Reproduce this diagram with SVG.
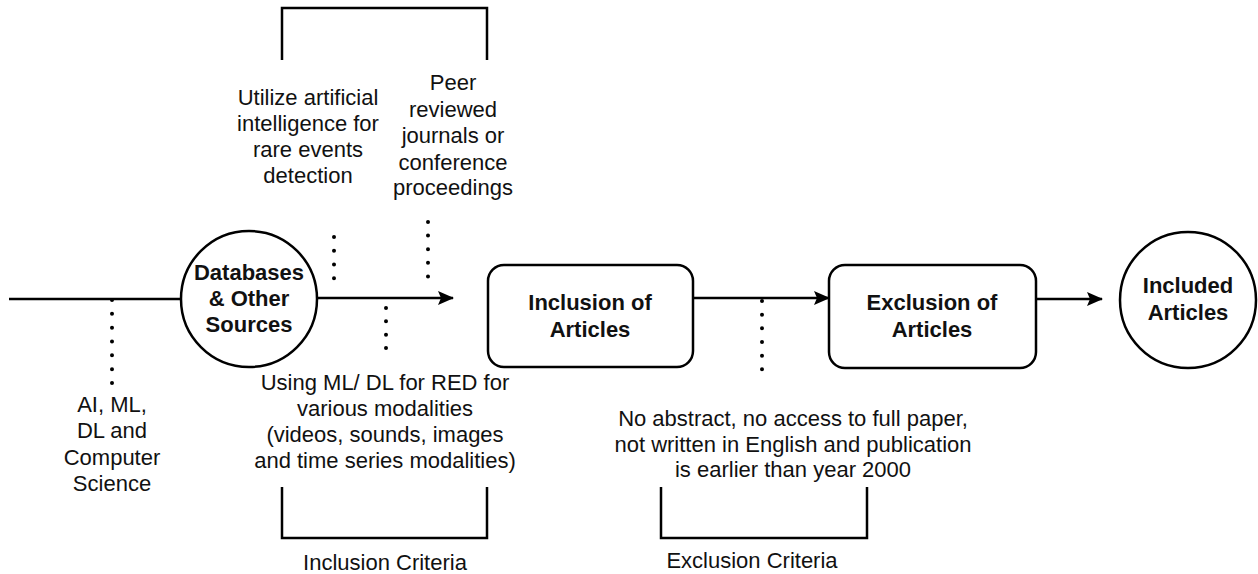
<svg xmlns="http://www.w3.org/2000/svg" width="1258" height="574" viewBox="0 0 1258 574">
<style>
.ln{fill:none;stroke:#000;stroke-width:2.5}
.sh{fill:#fff;stroke:#000;stroke-width:2.5}
.dot{fill:none;stroke:#000;stroke-width:4;stroke-linecap:round}
.t{font-family:"Liberation Sans",Arial,sans-serif;font-size:22px;fill:#111;text-anchor:middle}
.b{font-family:"Liberation Sans",Arial,sans-serif;font-size:22px;font-weight:bold;fill:#111;text-anchor:middle}
</style>
<defs>
<marker id="arr" markerUnits="userSpaceOnUse" markerWidth="17" markerHeight="15" refX="15" refY="7" orient="auto">
<path d="M0,0 L16,7 L0,14 L3,7 Z" fill="#000"/>
</marker>
</defs>
<rect width="1258" height="574" fill="#fff"/>
<g id="connectors">
<line class="ln" x1="9" y1="299" x2="181" y2="299"/>
<line class="ln" x1="318" y1="298" x2="453" y2="298" marker-end="url(#arr)"/>
<line class="ln" x1="693" y1="298" x2="829" y2="298" marker-end="url(#arr)"/>
<line class="ln" x1="1036" y1="299" x2="1102" y2="299" marker-end="url(#arr)"/>
<line class="dot" x1="112" y1="300" x2="112" y2="383" stroke-dasharray="0 13.83"/>
<line class="dot" x1="334" y1="237" x2="334" y2="292" stroke-dasharray="0 13.75"/>
<line class="dot" x1="428" y1="222" x2="428" y2="290" stroke-dasharray="0 13.6"/>
<line class="dot" x1="386" y1="308" x2="386" y2="348" stroke-dasharray="0 13.33"/>
<line class="dot" x1="762" y1="301" x2="762" y2="383" stroke-dasharray="0 13.67"/>
</g>
<g id="databases">
<circle class="sh" cx="249" cy="299" r="68"/>
<text class="b" x="249" y="280">Databases</text>
<text class="b" x="249" y="306">&amp; Other</text>
<text class="b" x="249" y="332">Sources</text>
</g>
<g id="inclusion">
<rect class="sh" x="488" y="265" width="205" height="102" rx="16"/>
<text class="b" x="590" y="310">Inclusion of</text>
<text class="b" x="590" y="337">Articles</text>
</g>
<g id="exclusion">
<rect class="sh" x="829" y="265" width="207" height="103" rx="16"/>
<text class="b" x="932" y="310">Exclusion of</text>
<text class="b" x="932" y="337">Articles</text>
</g>
<g id="included">
<circle class="sh" cx="1188" cy="300" r="68"/>
<text class="b" x="1188" y="293">Included</text>
<text class="b" x="1188" y="320">Articles</text>
</g>
<g id="ai-label">
<text class="t" x="112" y="412">AI, ML,</text>
<text class="t" x="112" y="438">DL and</text>
<text class="t" x="112" y="465">Computer</text>
<text class="t" x="112" y="491">Science</text>
</g>
<g id="utilize-label">
<text class="t" x="308" y="105">Utilize artificial</text>
<text class="t" x="308" y="131">intelligence for</text>
<text class="t" x="308" y="157">rare events</text>
<text class="t" x="308" y="183">detection</text>
</g>
<g id="peer-label">
<text class="t" x="453" y="90">Peer</text>
<text class="t" x="453" y="117">reviewed</text>
<text class="t" x="453" y="143">journals or</text>
<text class="t" x="453" y="170">conference</text>
<text class="t" x="453" y="195">proceedings</text>
</g>
<g id="using-label">
<text class="t" x="385" y="390">Using ML/ DL for RED for</text>
<text class="t" x="385" y="416">various modalities</text>
<text class="t" x="385" y="442">(videos, sounds, images</text>
<text class="t" x="385" y="468">and time series modalities)</text>
</g>
<g id="noabstract-label">
<text class="t" x="793" y="426">No abstract, no access to full paper,</text>
<text class="t" x="793" y="452">not written in English and publication</text>
<text class="t" x="793" y="477">is earlier than year 2000</text>
</g>
<g id="inclusion-criteria">
<path class="ln" d="M282,60 V8 H487 V60"/>
<path class="ln" d="M282,487 V538 H487 V487"/>
<text class="t" x="385" y="570">Inclusion Criteria</text>
</g>
<g id="exclusion-criteria">
<path class="ln" d="M661,487 V538 H867 V487"/>
<text class="t" x="752" y="568">Exclusion Criteria</text>
</g>
</svg>
